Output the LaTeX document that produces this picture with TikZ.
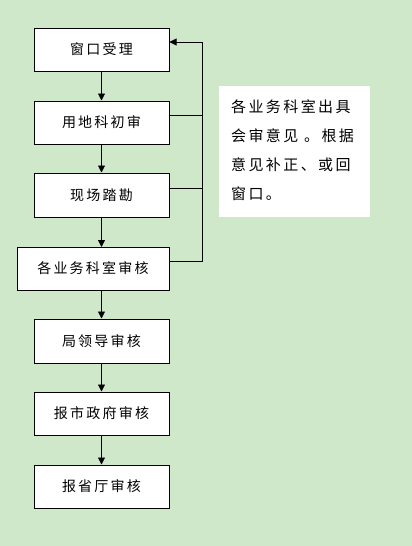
\documentclass[tikz,border=0pt]{standalone}
\usepackage{fontspec}
\newfontfamily\cjk[LetterSpace=16]{Noto Sans CJK SC}
\newfontfamily\cjkb[LetterSpace=16]{Noto Sans CJK SC}
\usetikzlibrary{arrows.meta}
\definecolor{bg}{RGB}{207,232,201}
\begin{document}
\begin{tikzpicture}[x=1pt,y=-1pt,
  stepbox/.style={draw=black,line width=1pt,fill=white,inner sep=0pt,font=\cjk\fontsize{14}{16}\selectfont},
  arr/.style={-{Triangle[width=7pt,length=7pt]},line width=0.8pt},
  ln/.style={line width=0.8pt}]
\fill[bg] (0,0) rectangle (412,546);
\useasboundingbox (0,0) rectangle (412,546);
\node[stepbox,minimum width=135pt,minimum height=43pt] (b1) at (101.5,49.5) {窗口受理};
\node[stepbox,minimum width=135pt,minimum height=43pt] (b2) at (101.5,122.5) {用地科初审};
\node[stepbox,minimum width=135pt,minimum height=44pt] (b3) at (101.5,195) {现场踏勘};
\node[stepbox,minimum width=152pt,minimum height=43pt] (b4) at (93,268.5) {各业务科室审核};
\node[stepbox,minimum width=135pt,minimum height=44pt] (b5) at (101.5,341) {局领导审核};
\node[stepbox,minimum width=135pt,minimum height=43pt] (b6) at (101.5,413.5) {报市政府审核};
\node[stepbox,minimum width=135pt,minimum height=43pt] (b7) at (101.5,486.5) {报省厅审核};
\draw[arr] (b1.south) -- (b2.north);
\draw[arr] (b2.south) -- (b3.north);
\draw[arr] (b3.south) -- (101.5,247);
\draw[arr] (101.5,290) -- (b5.north);
\draw[arr] (b5.south) -- (b6.north);
\draw[arr] (b6.south) -- (b7.north);
\coordinate (r1) at (202,42);
\coordinate (r4) at (202,261);
\draw[ln] (b2.east |- 0,115) -- (202,115);
\draw[ln] (b3.east |- 0,188) -- (202,188);
\draw[ln] (b4.east |- 0,261) -- (r4) -- (r1);
\draw[arr] (r1) -- (b1.east |- r1);
\node[fill=white,minimum width=151pt,minimum height=131pt,inner sep=0pt] (note) at (294.5,151.5) {};
\node[font=\cjkb\fontsize{15}{29}\selectfont,align=left,inner sep=0pt,anchor=north west] (notetext) at (231,100) {各业务科室出具\\会审意见\ 。根据\\意见补正、或回\\窗口。};
\end{tikzpicture}
\end{document}
